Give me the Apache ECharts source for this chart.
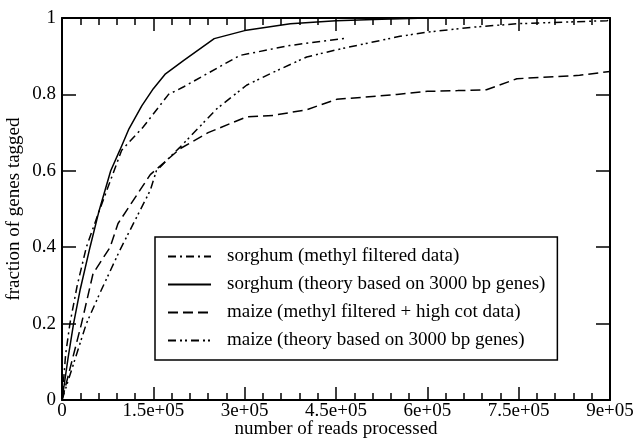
<!DOCTYPE html>
<html>
<head>
<meta charset="utf-8">
<script src="https://cdn.jsdelivr.net/npm/echarts@6/dist/echarts.min.js"></script>
<style>
  html, body { margin: 0; padding: 0; background: #fff; }
  #main { width: 635px; height: 440px; }
</style>
</head>
<body>
<div id="main"></div>
<script>
    // values
    var xTicks = [0, 150000, 300000, 450000, 600000, 750000, 900000];
    var xTickLabels = ['0', '1.5e+05', '3e+05', '4.5e+05', '6e+05', '7.5e+05', '9e+05'];

    var sorgDataX = [0, 6000, 13000, 25000, 40000, 60000, 98000, 133000, 175000, 200000, 292000, 374000, 465000];
    var sorgDataY = [0, 0.12, 0.20, 0.30, 0.40, 0.49, 0.654, 0.714, 0.80, 0.82, 0.902, 0.928, 0.947];

    var sorgTheoryX = [0, 10000, 19000, 30000, 46000, 60000, 80000, 95000, 110000, 131000, 150000, 170000, 200000, 250000, 300000, 375000, 450000, 525000, 600000, 900000];
    var sorgTheoryY = [0, 0.11, 0.20, 0.29, 0.40, 0.49, 0.60, 0.654, 0.71, 0.77, 0.815, 0.854, 0.889, 0.946, 0.967, 0.985, 0.993, 0.997, 1.0, 1.0];

    var maizeDataX = [0, 32000, 51000, 79000, 92000, 145000, 194000, 240000, 303000, 347000, 402000, 451000, 550000, 600000, 650000, 697000, 747000, 850000, 900000];
    var maizeDataY = [0, 0.20, 0.331, 0.40, 0.462, 0.59, 0.658, 0.70, 0.741, 0.745, 0.76, 0.787, 0.80, 0.808, 0.81, 0.812, 0.841, 0.85, 0.86];

    var maizeTheoryX = [0, 40000, 62000, 95000, 145000, 155000, 183000, 194000, 254000, 303000, 347000, 402000, 457000, 555000, 600000, 676000, 747000, 895000, 900000];
    var maizeTheoryY = [0, 0.20, 0.279, 0.392, 0.549, 0.60, 0.645, 0.662, 0.762, 0.824, 0.858, 0.898, 0.919, 0.952, 0.963, 0.976, 0.985, 0.993, 0.995];

    var names = [
        'sorghum (methyl filtered data)',
        'sorghum (theory based on 3000 bp genes)',
        'maize (methyl filtered + high cot data)',
        'maize (theory based on 3000 bp genes)'
    ];

    function pairs(xs, ys) {
        var out = [];
        for (var i = 0; i < xs.length; i++) {
            out.push([xs[i], ys[i]]);
        }
        return out;
    }

    var font = '"Liberation Serif", "DejaVu Serif", serif';

    function makeSeries(name, xs, ys, dash) {
        return {
            name: name,
            type: 'line',
            symbol: 'none',
            animation: false,
            data: pairs(xs, ys),
            lineStyle: { color: '#000', width: 1.5, type: dash },
            itemStyle: { color: '#000' }
        };
    }

    var xBase = {
        type: 'value', min: 0, max: 900000, interval: 150000,
        splitLine: { show: false },
        axisLine: { onZero: false, lineStyle: { color: '#000', width: 2 } },
        axisTick: { inside: true, length: 13, lineStyle: { color: '#000', width: 1.5 } },
        minorTick: { show: true, splitNumber: 5, length: 7, lineStyle: { color: '#000', width: 1.5 } }
    };
    var yBase = {
        type: 'value', min: 0, max: 1, interval: 0.2,
        splitLine: { show: false },
        axisLine: { onZero: false, lineStyle: { color: '#000', width: 2 } },
        axisTick: { inside: true, length: 14, lineStyle: { color: '#000', width: 1.5 } }
    };

    var option = {
        backgroundColor: '#fff',
        animation: false,
        grid: { left: 62, right: 25, top: 18, bottom: 40, outerBoundsMode: 'none', containLabel: false },
        legend: {
            orient: 'vertical',
            left: 155, top: 237,
            padding: [10, 12, 10, 12],
            itemWidth: 43, itemHeight: 14, itemGap: 9,
            backgroundColor: '#fff',
            borderColor: '#000', borderWidth: 1.5,
            itemStyle: { opacity: 0 },
            textStyle: { fontFamily: font, fontSize: 19, color: '#000', padding: [0, 0, 0, 11] },
            data: names
        },
        xAxis: [
            Object.assign({}, xBase, {
                position: 'bottom',
                name: 'number of reads processed',
                nameLocation: 'middle', nameGap: 20,
                nameMoveOverlap: false,
                nameTextStyle: { fontFamily: font, fontSize: 19, color: '#000' },
                axisLabel: {
                    fontFamily: font, fontSize: 19, color: '#000', margin: 2,
                    formatter: function (v) {
                        var i = xTicks.indexOf(v);
                        return i >= 0 ? xTickLabels[i] : '';
                    }
                }
            }),
            Object.assign({}, xBase, { position: 'top', axisLabel: { show: false } })
        ],
        yAxis: [
            Object.assign({}, yBase, {
                position: 'left',
                name: 'fraction of genes tagged',
                nameLocation: 'middle', nameGap: 38,
                nameMoveOverlap: false,
                nameTextStyle: { fontFamily: font, fontSize: 19, color: '#000' },
                axisLabel: {
                    fontFamily: font, fontSize: 19, color: '#000', margin: 6,
                    formatter: function (v) { return v === 0 ? '0' : (v === 1 ? '1' : v.toFixed(1)); }
                }
            }),
            Object.assign({}, yBase, { position: 'right', axisLabel: { show: false } })
        ],
        series: [
            makeSeries(names[0], sorgDataX, sorgDataY, [8, 4, 2, 4]),
            makeSeries(names[1], sorgTheoryX, sorgTheoryY, 'solid'),
            makeSeries(names[2], maizeDataX, maizeDataY, [10, 5]),
            makeSeries(names[3], maizeTheoryX, maizeTheoryY, [8, 4, 2, 3, 2, 4])
        ]
    };

    var myChart = echarts.init(document.getElementById('main'), null, { renderer: 'canvas' });
    myChart.setOption(option);
</script>
</body>
</html>
